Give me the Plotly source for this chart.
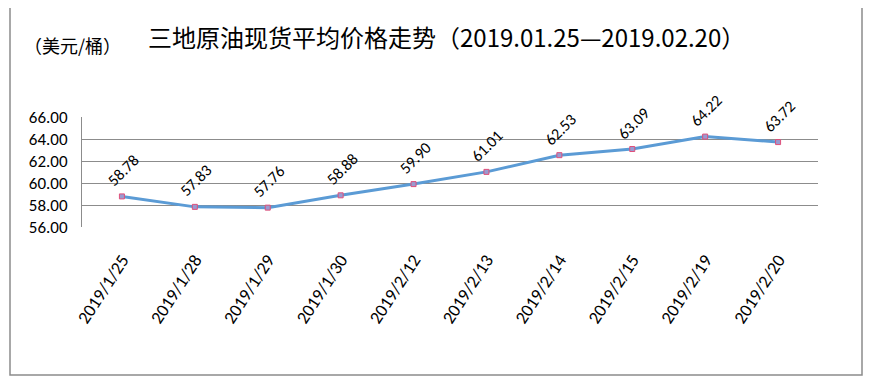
import plotly.graph_objects as go

dates = ["2019/1/25", "2019/1/28", "2019/1/29", "2019/1/30", "2019/2/12",
         "2019/2/13", "2019/2/14", "2019/2/15", "2019/2/19", "2019/2/20"]
prices = [58.78, 57.83, 57.76, 58.88, 59.90, 61.01, 62.53, 63.09, 64.22, 63.72]
y_ticks = [56, 58, 60, 62, 64, 66]
title_text = "三地原油现货平均价格走势（2019.01.25—2019.02.20）"
unit_text = "（美元/桶）"

W, H = 871, 384
OFF = 8  # page body margin offset
L, R, T, B = 82 - OFF, 818 - OFF, 117 - OFF, 227 - OFF
pw, ph = R - L, B - T

def px_x(x):
    return (x - OFF - L) / pw

def px_y(y):
    return (B - (y - OFF)) / ph

FONT = "Carlito, Liberation Sans, sans-serif"

fig = go.Figure()
fig.add_trace(go.Scatter(
    x=dates, y=prices, mode="lines+markers",
    line=dict(color="#5B9BD5", width=3),
    marker=dict(symbol="square", size=5, color="#9A9AD0",
                line=dict(color="#E0507A", width=1)),
    hoverinfo="x+y", showlegend=False,
))

for d, p in zip(dates, prices):
    fig.add_annotation(x=d, y=p, text=f"{p:.2f}", showarrow=False,
                       textangle=-45, yshift=26, xshift=1,
                       xanchor="center", yanchor="middle",
                       font=dict(family=FONT, size=16, color="black"))

fig.add_annotation(xref="paper", yref="paper", x=px_x(446), y=px_y(36),
                   xanchor="center", yanchor="middle", text=title_text, showarrow=False,
                   font=dict(family="Noto Sans CJK SC", size=24, color="black"))
fig.add_annotation(xref="paper", yref="paper", x=px_x(22), y=px_y(45),
                   xanchor="left", yanchor="middle", text=unit_text, showarrow=False,
                   font=dict(family="Noto Sans CJK SC", size=18, color="black"))

fig.add_shape(type="rect", xref="paper", yref="paper",
              x0=px_x(10), x1=px_x(862), y0=px_y(7), y1=px_y(375),
              line=dict(color="#8C8C8C", width=1.5), layer="below")

fig.update_layout(
    width=W, height=H,
    margin=dict(l=L, r=W - R, t=T, b=H - B),
    paper_bgcolor="white", plot_bgcolor="white",
    xaxis=dict(type="category", tickangle=-57, showgrid=False,
               showline=False, ticks="", ticklabelstandoff=18,
               tickfont=dict(family=FONT, size=18, color="black")),
    yaxis=dict(range=[56, 66], tickvals=y_ticks, tickformat=".2f",
               showgrid=True, gridcolor="#8C8C8C", gridwidth=1,
               showline=True, linecolor="#8C8C8C", linewidth=1,
               zeroline=False, ticks="", ticklabelstandoff=10,
               tickfont=dict(family=FONT, size=17, color="black")),
)

fig.write_html("out.html")
